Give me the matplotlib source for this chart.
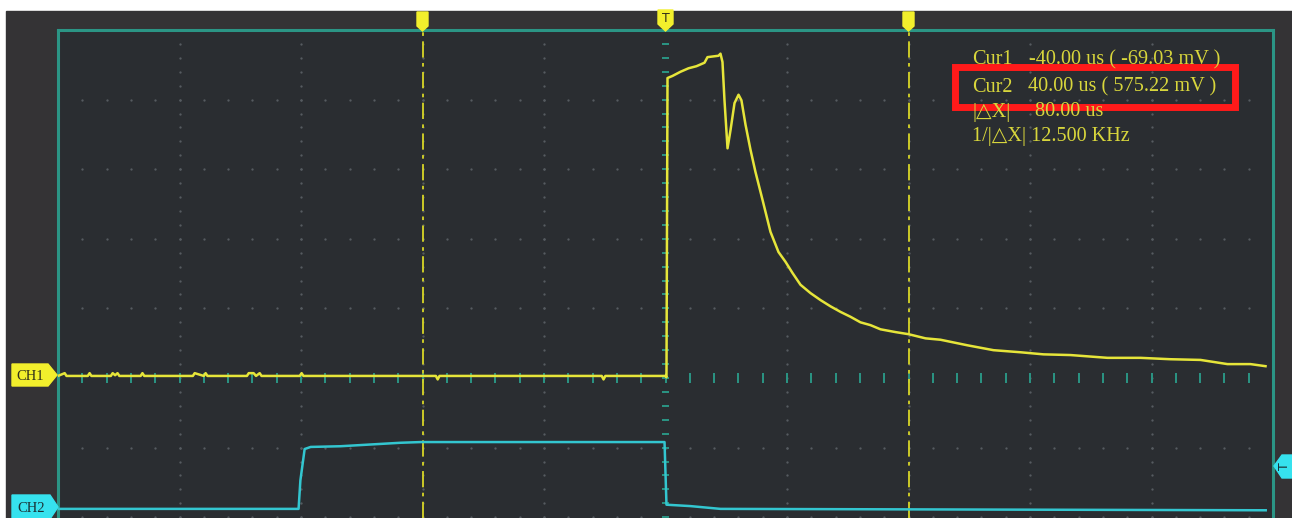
import matplotlib
matplotlib.use('Agg')
import matplotlib.pyplot as plt
import numpy as np
from matplotlib.patches import Rectangle, Polygon

# time in us (20 us/div), amplitude in divisions (0 = centre line)
ch1_t = [-100, -98.9, -98.6, -98.3, -95.1, -94.8, -94.5, -91.3, -91.0, -90.6, -90.2, -89.9,
         -86.4, -86.1, -85.8, -77.8, -77.5, -76.0, -75.7, -75.4, -68.9, -68.6, -67.8, -67.4,
         -66.8, -66.5, -60.2, -59.9, -59.6, -37.8, -37.5, -37.2, -10.5, -10.2, -9.9,
         0.0, 0.16, 0.33, 1.15, 2.47, 3.79, 5.10, 6.42, 6.91, 8.72, 9.05, 9.38, 9.71,
         10.21, 10.7, 11.36, 12.02, 12.5, 13.17, 13.99, 14.81, 15.97, 17.28, 18.6, 19.75,
         20.9, 22.22, 23.87, 25.51, 27.16, 28.81, 30.45, 32.1, 33.74, 35.39, 37.86, 40.0,
         42.8, 45.27, 49.71, 53.99, 58.44, 62.22, 66.67, 72.76, 78.19, 83.13, 88.07,
         92.51, 96.3, 98.77]
ch1_v = [0.03, 0.07, 0.03, 0.03, 0.03, 0.07, 0.03, 0.03, 0.07, 0.04, 0.07, 0.03,
         0.03, 0.07, 0.03, 0.03, 0.07, 0.03, 0.07, 0.03, 0.03, 0.07, 0.07, 0.03,
         0.07, 0.03, 0.03, 0.07, 0.03, 0.03, -0.02, 0.03, 0.03, -0.02, 0.03,
         0.03, 0.01, 4.31, 4.34, 4.40, 4.45, 4.48, 4.53, 4.61, 4.63, 4.66, 4.54, 3.99,
         3.30, 3.56, 3.95, 4.07, 3.99, 3.64, 3.28, 2.96, 2.56, 2.10, 1.81, 1.67,
         1.51, 1.34, 1.22, 1.12, 1.03, 0.95, 0.88, 0.80, 0.76, 0.70, 0.66, 0.63,
         0.57, 0.55, 0.47, 0.40, 0.37, 0.34, 0.33, 0.29, 0.29, 0.27, 0.26,
         0.20, 0.20, 0.17]

ch2_t = [-100, -60.4, -60.1, -59.4, -58.4, -53.5, -43.6, -40.3, -0.16, 0.16, 4.1, 9.05, 98.8]
ch2_v = [-1.88, -1.88, -1.47, -1.02, -0.99, -0.98, -0.93, -0.92, -0.92, -1.82, -1.84, -1.88, -1.90]

cursors = [-40, 40]
cursor_labels = ['Cur1', 'Cur2', '|\u25b3X|']
cursor_values = ['-40.00 us ( -69.03 mV )', '40.00 us ( 575.22 mV )', '80.00 us']
freq_text = '1/|\u25b3X| 12.500 KHz'

W, H = 1292, 518
fig = plt.figure(figsize=(W / 100, H / 100), dpi=100, facecolor='white')

bg = fig.add_axes([0, 0, 1, 1], zorder=0)
bg.set_xlim(0, W)
bg.set_ylim(H, 0)
bg.axis('off')
bg.add_patch(Rectangle((6, 11), W - 6, H - 11, color='#343335'))

teal = '#2b9585'
yellow = '#e6e53a'
cyan = '#33c6d0'

ax = fig.add_axes([58 / W, 0, (1273 - 58) / W, (H - 30) / H], zorder=1)
ax.set_facecolor('#2a2d31')
ax.set_xlim(-100, 100)
ax.set_ylim(-2.011, 5.0)
ax.set_xticks([])
ax.set_yticks([])
for s in ['top', 'left', 'right']:
    ax.spines[s].set_color(teal)
    ax.spines[s].set_linewidth(2.2)
ax.spines['bottom'].set_visible(False)

# dotted graticule
grid_x = [-80, -60, -40, -20, 20, 40, 60, 80]
grid_y = [-2, -1, 1, 2, 3, 4]
fine_y = np.arange(-2, 5.0, 0.2)
fine_x = np.arange(-96, 100, 4)
gx, gy = np.meshgrid(grid_x, fine_y)
ax.scatter(gx.ravel(), gy.ravel(), s=2.8, color='#565b60', linewidths=0, zorder=1)
hx, hy = np.meshgrid(fine_x, grid_y)
ax.scatter(hx.ravel(), hy.ravel(), s=2.8, color='#565b60', linewidths=0, zorder=1)

# centre axes ticks
ax.hlines(fine_y, -0.65, 0.65, color=teal, lw=1.4, zorder=2)
ax.vlines(fine_x, -0.07, 0.07, color=teal, lw=1.4, zorder=2)

# cursors
for c in cursors:
    ax.axvline(c, color='#d8d626', lw=1.3, dashes=(9, 3, 2, 3), zorder=3)

ax.plot(ch2_t, ch2_v, color=cyan, lw=1.8, zorder=4)
ax.plot(ch1_t, ch1_v, color=yellow, lw=1.8, zorder=5)

# overlay for markers and readout
ov = fig.add_axes([0, 0, 1, 1], zorder=3)
ov.set_xlim(0, W)
ov.set_ylim(H, 0)
ov.axis('off')
ov.patch.set_alpha(0)

ov.add_patch(Polygon([(12, 364), (48, 364), (57, 375), (48, 386), (12, 386)], color='#f2ef2c'))
ov.text(30, 376, 'CH1', ha='center', va='center', fontsize=10.5, color='#30301a', family='Liberation Serif')
ov.add_patch(Polygon([(12, 495), (50, 495), (58, 507), (50, 519), (12, 519)], color='#36e2ee'))
ov.text(31, 508, 'CH2', ha='center', va='center', fontsize=10.5, color='#1a3034', family='Liberation Serif')
ov.add_patch(Polygon([(1274, 466), (1282, 455), (1292, 455), (1292, 478), (1282, 478)], color='#36e2ee'))
ov.text(1285, 466, 'T', ha='center', va='center', fontsize=9, rotation=90, color='#1a3034', family='DejaVu Sans')

for c in cursors:
    px = 665.5 + c * 6.075
    ov.add_patch(Polygon([(px - 5.5, 12), (px + 5.5, 12), (px + 5.5, 26), (px, 31), (px - 5.5, 26)], color='#f2ef2c'))
ov.add_patch(Polygon([(658, 10), (673, 10), (673, 24), (665.5, 31), (658, 24)], color='#f2ef2c'))
ov.text(665.5, 19, 'T', ha='center', va='center', fontsize=9, color='#30301a', family='DejaVu Sans')

txt_color = '#d8d63c'
rows_y = [60, 87, 112]
val_x = [1029, 1028, 1035]
for lab, val, yy, vx in zip(cursor_labels, cursor_values, rows_y, val_x):
    ov.text(972, yy, lab, ha='left', va='center', fontsize=14.6, color=txt_color,
            family=['Liberation Serif', 'DejaVu Serif'])
    ov.text(vx, yy, val, ha='left', va='center', fontsize=14.6, color=txt_color,
            family=['Liberation Serif', 'DejaVu Serif'])
ov.text(972, 136, freq_text, ha='left', va='center', fontsize=14.6, color=txt_color,
        family=['Liberation Serif', 'DejaVu Serif'])

ov.add_patch(Rectangle((955, 67), 280, 40, fill=False, edgecolor='#ff1a1a', lw=5))

fig.savefig('out.png', dpi=100, facecolor='white')
